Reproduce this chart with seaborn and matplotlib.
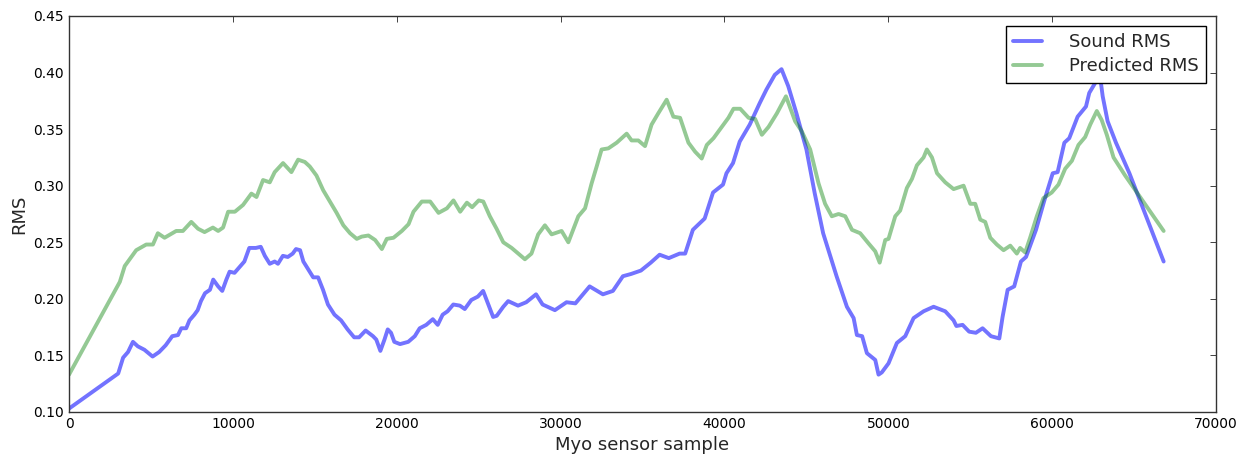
import matplotlib
matplotlib.use("Agg")
import matplotlib.pyplot as plt
import seaborn as sns
import pandas as pd

# values
sound_x = [0, 3000, 3300, 3600, 3900, 4200, 4600, 5100, 5500, 5900, 6300, 6650, 6850, 7150,
           7350, 7650, 7850, 8050, 8300, 8600, 8800, 9100, 9350, 9600, 9800, 10100, 10400,
           10700, 11000, 11400, 11700, 11950, 12250, 12550, 12750, 13050, 13350, 13650,
           13850, 14100, 14300, 14600, 14900, 15200, 15500, 15800, 16200, 16600, 17000,
           17400, 17700, 18100, 18550, 18750, 19000, 19250, 19450, 19650, 19850, 20200,
           20700, 21100, 21400, 21800, 22200, 22500, 22800, 23100, 23450, 23850, 24150,
           24550, 24950, 25270, 25880, 26100, 26500, 26800, 27400, 27900, 28500, 28900,
           29650, 30360, 30900, 31770, 32580, 33190, 33800, 34300, 34900, 35500, 36040,
           36600, 37260, 37600, 38070, 38790, 39300, 39910, 40120, 40520, 40930, 41540,
           42150, 42560, 43070, 43480, 43890, 44390, 45000, 45510, 46020, 46840, 47470,
           47880, 48080, 48400, 48690, 49200, 49400, 49600, 50010, 50520, 51030, 51540,
           52150, 52760, 53470, 53980, 54150, 54530, 54930, 55340, 55750, 56260, 56770,
           56970, 57280, 57680, 58090, 58400, 59010, 59520, 60030, 60330, 60740, 61040,
           61550, 62060, 62260, 62670, 62870, 63080, 63380, 63890, 64710, 66800]
sound_rms = [0.103, 0.134, 0.148, 0.153, 0.162, 0.158, 0.155, 0.149, 0.153, 0.159, 0.167,
             0.168, 0.174, 0.174, 0.181, 0.186, 0.190, 0.198, 0.205, 0.208, 0.217, 0.211,
             0.207, 0.217, 0.224, 0.223, 0.228, 0.233, 0.245, 0.245, 0.246, 0.238, 0.231,
             0.233, 0.231, 0.238, 0.237, 0.240, 0.244, 0.243, 0.233, 0.226, 0.219, 0.219,
             0.208, 0.195, 0.186, 0.181, 0.173, 0.166, 0.166, 0.172, 0.167, 0.164, 0.154,
             0.164, 0.173, 0.170, 0.162, 0.160, 0.162, 0.167, 0.174, 0.177, 0.182, 0.177,
             0.186, 0.189, 0.195, 0.194, 0.191, 0.199, 0.202, 0.207, 0.184, 0.185, 0.193,
             0.198, 0.194, 0.197, 0.204, 0.195, 0.190, 0.197, 0.196, 0.211, 0.204, 0.207,
             0.220, 0.222, 0.225, 0.232, 0.239, 0.236, 0.240, 0.240, 0.261, 0.271, 0.294,
             0.301, 0.311, 0.320, 0.339, 0.354, 0.373, 0.385, 0.398, 0.403, 0.388, 0.364,
             0.332, 0.293, 0.258, 0.220, 0.193, 0.183, 0.168, 0.167, 0.152, 0.146, 0.133,
             0.135, 0.143, 0.161, 0.167, 0.183, 0.189, 0.193, 0.189, 0.181, 0.176, 0.177,
             0.171, 0.170, 0.174, 0.167, 0.165, 0.184, 0.208, 0.211, 0.233, 0.237, 0.261,
             0.287, 0.311, 0.312, 0.338, 0.342, 0.361, 0.370, 0.382, 0.392, 0.402, 0.379,
             0.357, 0.338, 0.311, 0.233]

pred_x = [0, 3100, 3400, 4100, 4710, 5120, 5420, 5830, 6540, 6950, 7460, 7870, 8270, 8780,
          9100, 9400, 9710, 10120, 10620, 11130, 11440, 11840, 12250, 12550, 13060, 13570,
          13980, 14390, 14690, 15100, 15510, 15920, 16330, 16740, 17150, 17560, 17860,
          18270, 18680, 19090, 19390, 19800, 20310, 20720, 21020, 21530, 22040, 22550,
          23060, 23460, 23870, 24280, 24600, 25000, 25280, 25680, 26090, 26500, 27010,
          27410, 27820, 28220, 28630, 29040, 29450, 30060, 30470, 31080, 31490, 31890,
          32200, 32500, 32910, 33420, 34030, 34330, 34740, 35150, 35550, 35960, 36470,
          36880, 37290, 37800, 38210, 38610, 38920, 39330, 39840, 40240, 40550, 40960,
          41470, 41870, 42280, 42690, 43200, 43750, 44310, 44720, 45230, 45740, 46140,
          46550, 46960, 47370, 47780, 48280, 48790, 49200, 49470, 49810, 50010, 50420,
          50720, 51130, 51440, 51740, 52150, 52350, 52660, 52970, 53470, 53980, 54590,
          55000, 55300, 55610, 55910, 56220, 56620, 57030, 57440, 57840, 58040, 58350,
          58650, 59060, 59460, 59970, 60380, 60790, 61200, 61600, 62010, 62320, 62720,
          63020, 63330, 63740, 64450, 66800]
pred_rms = [0.133, 0.215, 0.229, 0.243, 0.248, 0.248, 0.258, 0.254, 0.260, 0.260, 0.268,
            0.262, 0.259, 0.263, 0.260, 0.263, 0.277, 0.277, 0.283, 0.293, 0.290, 0.305,
            0.303, 0.312, 0.320, 0.312, 0.323, 0.321, 0.317, 0.309, 0.296, 0.286, 0.276,
            0.265, 0.258, 0.253, 0.255, 0.256, 0.252, 0.244, 0.253, 0.254, 0.260, 0.266,
            0.277, 0.286, 0.286, 0.276, 0.280, 0.287, 0.277, 0.285, 0.281, 0.287, 0.286,
            0.273, 0.262, 0.250, 0.245, 0.240, 0.235, 0.240, 0.257, 0.265, 0.257, 0.260,
            0.250, 0.273, 0.280, 0.302, 0.317, 0.332, 0.333, 0.338, 0.346, 0.340, 0.340,
            0.335, 0.354, 0.364, 0.376, 0.361, 0.360, 0.338, 0.330, 0.324, 0.336, 0.342,
            0.352, 0.360, 0.368, 0.368, 0.360, 0.359, 0.345, 0.352, 0.364, 0.379, 0.357,
            0.348, 0.332, 0.302, 0.284, 0.273, 0.275, 0.273, 0.261, 0.258, 0.249, 0.242,
            0.232, 0.252, 0.253, 0.273, 0.278, 0.298, 0.306, 0.318, 0.325, 0.332, 0.325,
            0.311, 0.303, 0.297, 0.300, 0.284, 0.284, 0.270, 0.268, 0.254, 0.248, 0.243,
            0.247, 0.240, 0.245, 0.241, 0.254, 0.273, 0.289, 0.294, 0.301, 0.315, 0.322,
            0.336, 0.343, 0.354, 0.366, 0.358, 0.345, 0.325, 0.309, 0.260]

sound = pd.DataFrame({"sample": sound_x, "rms": sound_rms})
pred = pd.DataFrame({"sample": pred_x, "rms": pred_rms})

sns.set_style("white", {"xtick.direction": "in", "ytick.direction": "in",
                        "axes.edgecolor": "black"})
plt.rcParams["font.family"] = ["DejaVu Sans"]

fig = plt.figure(figsize=(12.46, 4.57), dpi=100)
ax = fig.add_axes([0.0554, 0.0985, 0.9206, 0.8665])

sns.lineplot(data=sound, x="sample", y="rms", ax=ax, color="blue", alpha=0.55,
             linewidth=2.8, label="Sound RMS", sort=False)
sns.lineplot(data=pred, x="sample", y="rms", ax=ax, color="green", alpha=0.42,
             linewidth=2.8, label="Predicted RMS", sort=False)

ax.set_xlim(0, 70000)
ax.set_ylim(0.10, 0.45)
ax.set_yticks([0.10, 0.15, 0.20, 0.25, 0.30, 0.35, 0.40, 0.45])
ax.set_yticklabels([f"{v:.2f}" for v in ax.get_yticks()])
ax.tick_params(axis="both", which="both", direction="in", top=True, right=True,
               length=4, width=0.6, labelsize=10, colors="#222222")
ax.tick_params(labelcolor="black")
for sp in ax.spines.values():
    sp.set_color("#333333")
    sp.set_linewidth(1.0)

ax.set_xlabel("Myo sensor sample", fontsize=13)
ax.set_ylabel("RMS", fontsize=13)

leg = ax.legend(loc="upper right", fontsize=13, fancybox=False, frameon=True,
                borderaxespad=0.55, handlelength=1.6, handletextpad=1.5,
                labelspacing=0.35)
leg.get_frame().set_edgecolor("black")
leg.get_frame().set_linewidth(1.0)
leg.get_frame().set_alpha(1.0)

fig.savefig("out.png", dpi=100)
plt.close(fig)
